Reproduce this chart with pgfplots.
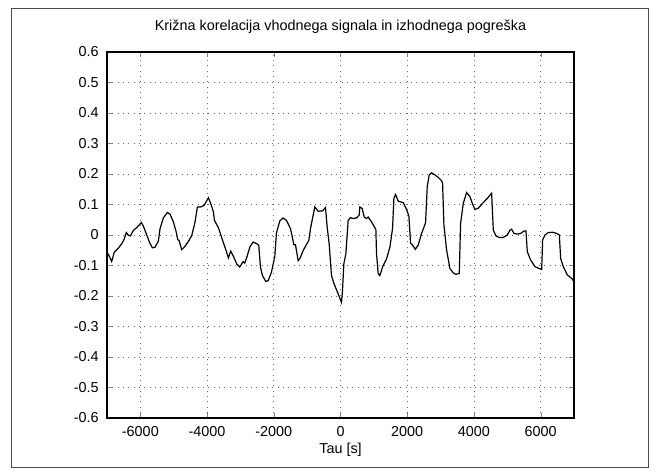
\documentclass[border=0pt]{standalone}
\usepackage{pgfplots}
\pgfplotsset{compat=1.18}
\usepackage{fontspec}
\setmainfont{Liberation Sans}

\begin{document}
\begin{tikzpicture}
  % whole image and the outer figure frame (1px = 0.75pt, axis box at origin)
  \path (-80.25pt,-39.75pt) rectangle (411.75pt,313.5pt);
  \draw[black!70, line width=0.6pt] (-72pt,-36.75pt) rectangle (405.75pt,307.5pt);
  \begin{axis}[
      scale only axis,
      width=350.25pt, height=274.5pt,
      xmin=-7000, xmax=7000,
      ymin=-0.6, ymax=0.6,
      xtick={-6000,-4000,...,6000},
      ytick={-0.6,-0.5,...,0.6},
      scaled ticks=false,
      /pgf/number format/1000 sep={},
      /pgf/number format/assume math mode=true,
      font=\fontsize{10.8}{13}\selectfont,
      tick align=inside, tick pos=both,
      major tick length=3.5pt,
      axis line style={line width=0.8pt},
      grid=major,
      major grid style={black!60, line width=0.55pt, dash pattern=on 0.6pt off 3.4pt},
      xticklabel style={anchor=base, inner sep=0pt, yshift=-14pt},
      yticklabel style={anchor=east, inner sep=0pt, xshift=-6pt},
      title={Križna korelacija vhodnega signala in izhodnega pogreška},
      title style={at={(axis description cs:0.5,1)}, anchor=base, inner sep=0pt, yshift=9.8pt},
      xlabel={Tau [s]},
      xlabel style={at={(axis description cs:0.5,0)}, anchor=base, inner sep=0pt, yshift=-26.5pt},
    ]
    \addplot[black, line width=0.9pt, mark=none] coordinates {
      (-7000,-0.056) (-6930,-0.070) (-6860,-0.087) (-6780,-0.056) (-6660,-0.043)
      (-6560,-0.029) (-6490,-0.015) (-6420,0.008) (-6360,-0.001) (-6300,-0.003)
      (-6210,0.015) (-6090,0.026) (-5970,0.041) (-5910,0.029) (-5810,0.001)
      (-5730,-0.023) (-5640,-0.042) (-5560,-0.040) (-5460,-0.020) (-5410,0.021)
      (-5310,0.056) (-5190,0.074) (-5110,0.068) (-5010,0.043) (-4930,0.012)
      (-4880,-0.015) (-4840,-0.018) (-4760,-0.048) (-4660,-0.037) (-4560,-0.021)
      (-4460,-0.002) (-4360,0.043) (-4290,0.092) (-4190,0.092) (-4090,0.097)
      (-3960,0.122) (-3890,0.103) (-3810,0.076) (-3780,0.048) (-3660,0.024)
      (-3560,-0.009) (-3430,-0.051) (-3360,-0.075) (-3290,-0.053) (-3210,-0.070)
      (-3110,-0.095) (-3020,-0.105)
      (-2920,-0.087) (-2870,-0.092) (-2800,-0.070) (-2720,-0.040) (-2620,-0.023)
      (-2500,-0.029) (-2450,-0.034) (-2400,-0.105) (-2340,-0.133) (-2240,-0.152)
      (-2170,-0.150) (-2070,-0.122) (-1970,-0.070) (-1920,0.007) (-1820,0.046)
      (-1720,0.056) (-1620,0.048) (-1500,0.021) (-1440,-0.009) (-1400,-0.032)
      (-1350,-0.032) (-1270,-0.084) (-1220,-0.078) (-1120,-0.051) (-1020,-0.031)
      (-950,-0.018) (-900,0.021) (-770,0.092) (-670,0.078) (-540,0.079)
      (-450,0.090) (-400,0.026) (-340,-0.029) (-270,-0.133) (-200,-0.158)
      (-70,-0.193) (30,-0.221) (60,-0.182) (100,-0.095) (160,-0.062)
      (230,0.048) (300,0.057) (380,0.054) (480,0.056) (560,0.065)
      (580,0.092) (650,0.087) (710,0.059) (780,0.054) (830,0.059)
      (930,0.043) (1060,0.018) (1080,-0.062) (1130,-0.127) (1180,-0.133)
      (1260,-0.105) (1380,-0.078) (1480,-0.040) (1560,0.021) (1600,0.120)
      (1650,0.133) (1730,0.111) (1880,0.106) (1980,0.084)
      (2050,0.062) (2100,-0.027) (2160,-0.033) (2240,-0.047) (2330,-0.033)
      (2430,0.005) (2550,0.040) (2600,0.159) (2660,0.197) (2730,0.204)
      (2830,0.197) (2930,0.189) (3030,0.178) (3060,0.170) (3100,0.033)
      (3180,-0.049) (3280,-0.110) (3380,-0.124) (3460,-0.129) (3560,-0.126)
      (3600,0.038) (3680,0.104) (3780,0.139) (3880,0.126) (3960,0.101)
      (4030,0.084) (4130,0.088) (4260,0.104) (4400,0.120) (4530,0.137)
      (4580,0.016) (4660,-0.003) (4760,-0.008) (4880,-0.008) (5000,0.000)
      (5080,0.016) (5130,0.019) (5200,0.005) (5300,0.003) (5400,0.005)
      (5500,0.013) (5560,0.013) (5600,-0.055) (5700,-0.082) (5830,-0.104)
      (5960,-0.110) (6030,-0.113) (6060,-0.016) (6130,0.000) (6230,0.008)
      (6360,0.009) (6480,0.005) (6560,0.000) (6600,-0.077) (6680,-0.104)
      (6800,-0.131) (6930,-0.142) (7000,-0.153)
    };
  \end{axis}
\end{tikzpicture}
\end{document}
